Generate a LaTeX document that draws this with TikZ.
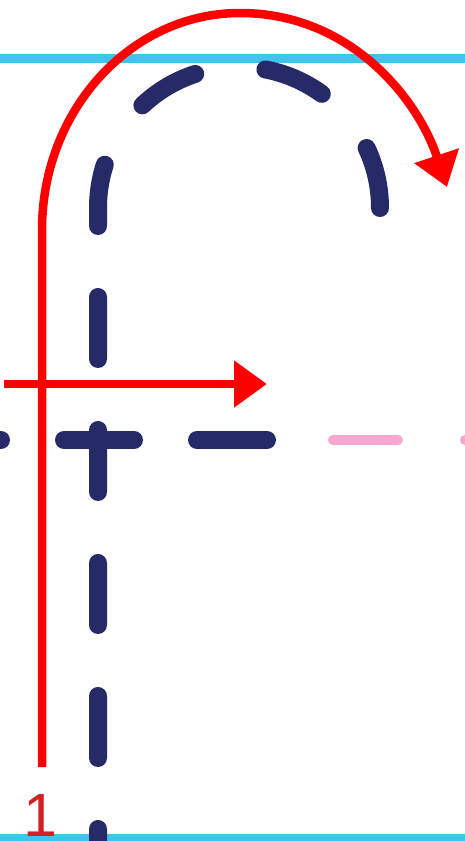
\documentclass[tikz,border=0pt]{standalone}
\usepackage{fontspec}
\setmainfont{Liberation Sans}
\usetikzlibrary{arrows.meta}
\definecolor{skyc}{HTML}{40C4EE}
\definecolor{navyc}{HTML}{262A66}
\definecolor{pinkc}{HTML}{F7A8CF}
\definecolor{redc}{HTML}{FF0000}
\definecolor{labelred}{HTML}{D42024}
\begin{document}
\begin{tikzpicture}[x=1pt,y=-1pt,
  guide/.style={draw=skyc,line width=9pt},
  track/.style={draw=navyc,line width=18pt,line cap=round},
  ghost/.style={draw=pinkc,line width=10pt,line cap=round},
  route/.style={draw=redc,line width=8.5pt},
  tipstyle/.style={-{Triangle[length=33pt,width=45pt]}}]
\useasboundingbox (0,0) rectangle (464,841);
% guide lines
\coordinate (gtl) at (-10,58);
\coordinate (gtr) at (474,58);
\coordinate (gbl) at (-10,838);
\coordinate (gbr) at (474,838);
\draw[guide] (gtl) -- (gtr);
\draw[guide] (gbl) -- (gbr);
% navy dashed track
\coordinate (na) at (380,208);
\coordinate (nb) at (98,860);
\draw[track, dash pattern=on 62pt off 71pt] (na) arc[start angle=0,end angle=180,radius=141pt] -- (nb);
\coordinate (hl) at (-69,440);
\coordinate (hr) at (267,440);
\draw[track, dash pattern=on 70pt off 63pt] (hl) -- (hr);
\coordinate (pl) at (333,440);
\coordinate (pr) at (490,440);
\draw[ghost, dash pattern=on 65pt off 67pt] (pl) -- (pr);
% red routes
\coordinate (rb) at (42,767);
\coordinate (rm) at (42,230);
\coordinate (rtop) at (240,13);
\coordinate (rt) at (447,187);
\draw[route, tipstyle] (rb) -- (rm) .. controls (42,110) and (131,13) .. (rtop) .. controls (349,13) and (417,97) .. (rt);
\coordinate (ha) at (4,384);
\coordinate (hb) at (267,384);
\draw[route, tipstyle] (ha) -- (hb);
% label
\node[text=labelred, font=\fontsize{61}{61}\selectfont, inner sep=0pt, anchor=base] (one) at (40,836) {1};
\end{tikzpicture}
\end{document}
